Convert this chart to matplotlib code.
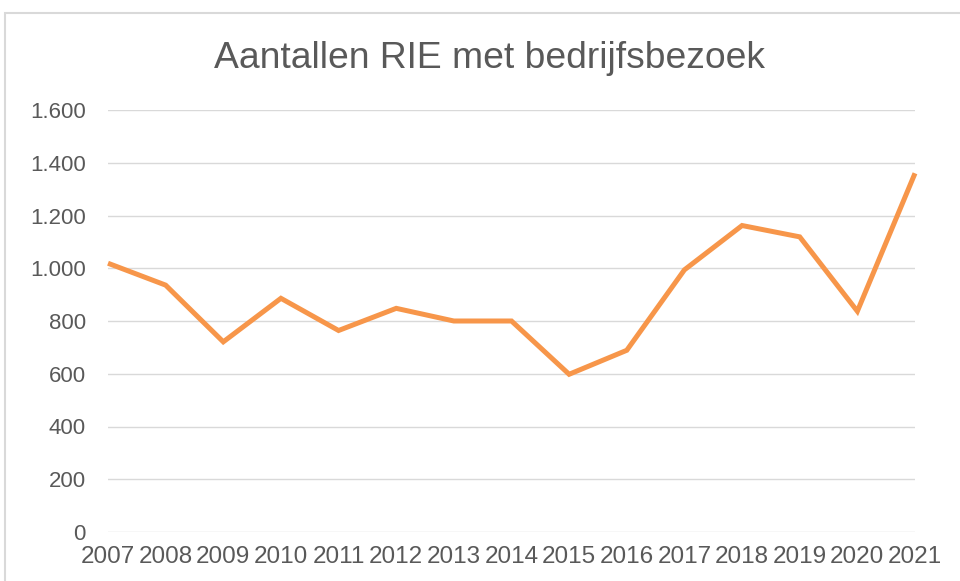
import matplotlib
matplotlib.use("Agg")
import matplotlib.pyplot as plt
from matplotlib.ticker import FuncFormatter
from matplotlib.patches import Rectangle

years = [2007, 2008, 2009, 2010, 2011, 2012, 2013, 2014, 2015, 2016, 2017, 2018, 2019, 2020, 2021]
values = [1019, 936, 721, 886, 764, 848, 800, 800, 598, 689, 994, 1162, 1119, 837, 1360]
title = "Aantallen RIE met bedrijfsbezoek"
y_ticks = [0, 200, 400, 600, 800, 1000, 1200, 1400, 1600]

plt.rcParams['font.family'] = ['Liberation Sans', 'DejaVu Sans']
text_color = '#595959'

fig = plt.figure(figsize=(9.6, 5.81), dpi=100)
W, H = 960, 581

# chart border (extends beyond right and bottom edge)
fig.patches.append(Rectangle((5 / W, -0.1), 1.2, 1 - 13 / H + 0.1, transform=fig.transFigure,
                             fill=False, edgecolor='#D9D9D9', linewidth=1.5, zorder=0))

ax = fig.add_axes([108 / W, 1 - 532 / H, (915 - 108) / W, (532 - 110) / H])
ax.plot(years, values, color='#F7964A', linewidth=3.6, solid_joinstyle='miter',
        solid_capstyle='butt', clip_on=False, zorder=3)

ax.set_xlim(years[0], years[-1])
ax.set_ylim(0, 1600)
ax.set_yticks(y_ticks)
ax.yaxis.set_major_formatter(FuncFormatter(lambda v, p: f"{int(v):,}".replace(',', '.')))
ax.set_xticks(years)
ax.set_xticklabels([str(y) for y in years])

ax.grid(axis='y', color='#D9D9D9', linewidth=1.0)
ax.set_axisbelow(True)
for s in ax.spines.values():
    s.set_visible(False)
ax.tick_params(axis='both', length=0, colors=text_color)
ax.tick_params(axis='y', labelsize=16, pad=16)
ax.tick_params(axis='x', labelsize=17.5, pad=10)

fig.text(490 / W, 1 - 58 / H, title, ha='center', va='center', fontsize=26.8, color=text_color)

fig.savefig('out.png', dpi=100)
